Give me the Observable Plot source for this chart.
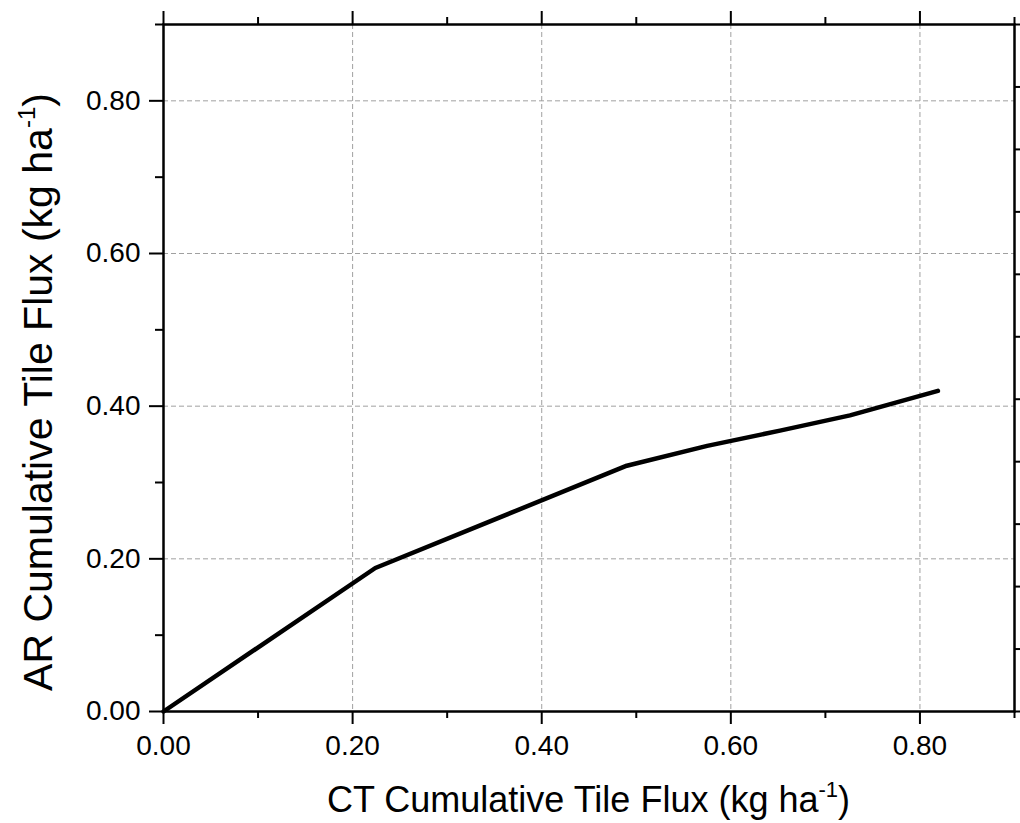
<!DOCTYPE html>
<html>
<head>
<meta charset="utf-8">
<script src="https://cdn.jsdelivr.net/npm/d3@7"></script>
<script src="https://cdn.jsdelivr.net/npm/@observablehq/plot@0.6"></script>
<style>
  html, body { margin: 0; padding: 0; background: #fff; }
  #chart svg { display: block; }
</style>
</head>
<body>
<div id="chart"></div>
<script>
// Data
const ctFlux = [0, 0.224, 0.490, 0.575, 0.652, 0.726, 0.819];
const arFlux = [0, 0.188, 0.322, 0.348, 0.368, 0.388, 0.420];
const majorTicks = [0, 0.2, 0.4, 0.6, 0.8];
const minorTicks = [0.1, 0.3, 0.5, 0.7, 0.9];
const gridTicks = [0.2, 0.4, 0.6, 0.8];
const tickLabels = ["0.00", "0.20", "0.40", "0.60", "0.80"];
const xTitle = ["CT Cumulative Tile Flux (kg ha", "-1", ")"];
const yTitle = ["AR Cumulative Tile Flux (kg ha", "-1", ")"];
const rightTickCount = 12;

const data = ctFlux.map((x, i) => ({x, y: arFlux[i]}));
const rightTicks = d3.range(rightTickCount).map(i => 0.9 * i / (rightTickCount - 1));
const fmt = d => tickLabels[majorTicks.indexOf(d)];

const W = 1020, H = 823;
const mL = 163, mR = 6, mT = 24, mB = 112;

const plot = Plot.plot({
  width: W, height: H,
  marginLeft: mL, marginRight: mR, marginTop: mT, marginBottom: mB,
  style: {fontFamily: "'Liberation Sans', Arial, sans-serif", fontSize: "28px", color: "#000", background: "#fff"},
  x: {domain: [0, 0.9]},
  y: {domain: [0, 0.9]},
  marks: [
    Plot.gridX(gridTicks, {stroke: "#a0a0a0", strokeOpacity: 1, strokeWidth: 1, strokeDasharray: "5,3"}),
    Plot.gridY(gridTicks, {stroke: "#a0a0a0", strokeOpacity: 1, strokeWidth: 1, strokeDasharray: "5,3"}),
    Plot.line(data, {x: "x", y: "y", stroke: "#000", strokeWidth: 4.5, strokeLinejoin: "round", strokeLinecap: "round"}),
    Plot.axisX(majorTicks, {anchor: "bottom", tickSize: 13, tickPadding: 11, strokeWidth: 2, tickFormat: fmt, label: null, fontSize: 28}),
    Plot.axisX(minorTicks, {anchor: "bottom", tickSize: 7, strokeWidth: 2, tickFormat: () => "", label: null}),
    Plot.axisX(majorTicks, {anchor: "top", tickSize: 14, strokeWidth: 2, tickFormat: () => "", label: null}),
    Plot.axisX(minorTicks, {anchor: "top", tickSize: 8, strokeWidth: 2, tickFormat: () => "", label: null}),
    Plot.axisY(majorTicks, {anchor: "left", tickSize: 14, tickPadding: 9, strokeWidth: 2, tickFormat: fmt, label: null, fontSize: 28}),
    Plot.axisY(minorTicks, {anchor: "left", tickSize: 8, strokeWidth: 2, tickFormat: () => "", label: null}),
    Plot.axisY(rightTicks, {anchor: "right", tickSize: 8, strokeWidth: 2, tickFormat: () => "", label: null}),
    Plot.frame({stroke: "#000", strokeWidth: 2.5})
  ]
});

const svg = d3.select(plot);
const cx = mL + (W - mL - mR) / 2;

const xt = svg.append("text")
  .attr("x", cx).attr("y", 812)
  .attr("text-anchor", "middle")
  .attr("font-size", 36)
  .attr("fill", "#000");
xt.append("tspan").text(xTitle[0]);
xt.append("tspan").attr("dy", -15).attr("font-size", 22).text(xTitle[1]);
xt.append("tspan").attr("dy", 15).text(xTitle[2]);

const yt = svg.append("text")
  .attr("transform", "translate(52,392) rotate(-90)")
  .attr("text-anchor", "middle")
  .attr("font-size", 41)
  .attr("fill", "#000");
yt.append("tspan").text(yTitle[0]);
yt.append("tspan").attr("dy", -17).attr("font-size", 24).text(yTitle[1]);
yt.append("tspan").attr("dy", 17).text(yTitle[2]);

document.getElementById("chart").appendChild(plot);
</script>
</body>
</html>
